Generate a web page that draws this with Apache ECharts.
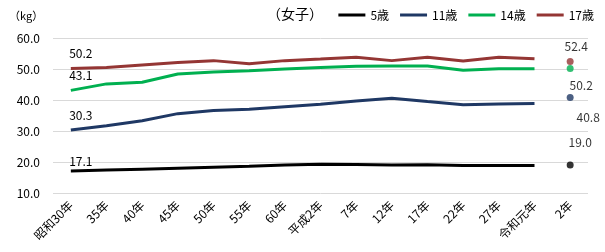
<!DOCTYPE html>
<html><head><meta charset="utf-8">
<script src="https://cdn.jsdelivr.net/npm/echarts@6/dist/echarts.min.js"></script>
<style>html,body{margin:0;padding:0;background:#fff}#c{width:605px;height:252px}</style>
</head><body><div id="c"></div>
<script>
const categories = ['昭和30年','35年','40年','45年','50年','55年','60年','平成2年','7年','12年','17年','22年','27年','令和元年','2年'];
const yTicks = [10, 20, 30, 40, 50, 60];
const seriesNames = ['5歳','11歳','14歳','17歳'];
const age5  = [17.1,17.4,17.7,18.0,18.3,18.6,19.0,19.3,19.2,19.0,19.1,18.9,18.9,18.9];
const age11 = [30.3,31.7,33.3,35.6,36.6,37.0,37.8,38.6,39.7,40.6,39.5,38.5,38.7,38.9];
const age14 = [43.1,45.2,45.7,48.4,49.0,49.4,50.0,50.5,50.9,51.0,51.0,49.6,50.1,50.1];
const age17 = [50.2,50.5,51.3,52.1,52.7,51.7,52.7,53.2,53.8,52.7,53.8,52.6,53.8,53.3];
const r2Values = [19.0, 40.8, 50.2, 52.4];

const font = '"Noto Sans CJK JP", "Noto Sans", sans-serif';
const colors = ['#000000', '#1f3864', '#00b050', '#943634'];
const lineData = [age5, age11, age14, age17];
const startLabel = [{d:4},{d:9},{d:9},{d:9}];
const endLabel = [
  {pos:'top', d:13, off:[10,0]},
  {pos:'bottom', d:10, off:[18,0]},
  {pos:'bottom', d:8, off:[11,0]},
  {pos:'top', d:6, off:[6,0]}
];
const series = [];
lineData.forEach((arr, i) => {
  series.push({
    name: seriesNames[i], type: 'line', data: arr, symbol: 'circle', symbolSize: 0, showSymbol: true,
    lineStyle: {color: colors[i], width: 3}, itemStyle: {color: colors[i]},
    label: {show: true, position: 'top', distance: startLabel[i].d, offset: [10, 0],
      fontFamily: font, fontSize: 12, color: '#000',
      formatter: p => p.dataIndex === 0 ? p.value.toFixed(1) : ''},
    z: 3
  });
});
r2Values.forEach((v, i) => {
  const d = categories.map(() => '-');
  d[categories.length - 1] = v;
  series.push({
    name: seriesNames[i] + '_2', type: 'scatter', data: d, symbol: 'circle', symbolSize: 7,
    itemStyle: {color: colors[i]},
    label: {show: true, position: endLabel[i].pos, distance: endLabel[i].d, offset: endLabel[i].off,
      fontFamily: font, fontSize: 12, color: '#000', formatter: p => p.value.toFixed(1)},
    z: 4
  });
});

const chart = echarts.init(document.getElementById('c'), null, {renderer: 'canvas'});
chart.setOption({
  animation: false,
  textStyle: {fontFamily: font},
  title: {text: '（女子）', left: 262, top: 2, textStyle: {fontFamily: font, fontSize: 14, fontWeight: 'normal', color: '#000'}},
  graphic: [{type: 'text', left: 9, top: 10, style: {text: '（kg）', fontFamily: font, fontSize: 11, fill: '#000'}}],
  legend: {
    data: seriesNames, right: 6, top: 4, icon: 'rect', itemWidth: 27, itemHeight: 3, itemGap: 11,
    textStyle: {fontFamily: font, fontSize: 12, color: '#000'}
  },
  color: colors,
  grid: {left: 53, right: 17, top: 38, bottom: 59, containLabel: false},
  xAxis: {
    type: 'category', data: categories, boundaryGap: true,
    axisLine: {show: false}, axisTick: {show: false},
    axisLabel: {rotate: 45, interval: 0, fontFamily: font, fontSize: 12, color: '#000', margin: 10}
  },
  yAxis: {
    type: 'value', min: yTicks[0], max: yTicks[yTicks.length - 1], interval: 10,
    axisLine: {show: false}, axisTick: {show: false},
    axisLabel: {fontFamily: font, fontSize: 12, color: '#000', margin: 13, formatter: v => v.toFixed(1)},
    splitLine: {lineStyle: {color: '#d9d9d9', width: 1}}
  },
  series: series
});
</script></body></html>
